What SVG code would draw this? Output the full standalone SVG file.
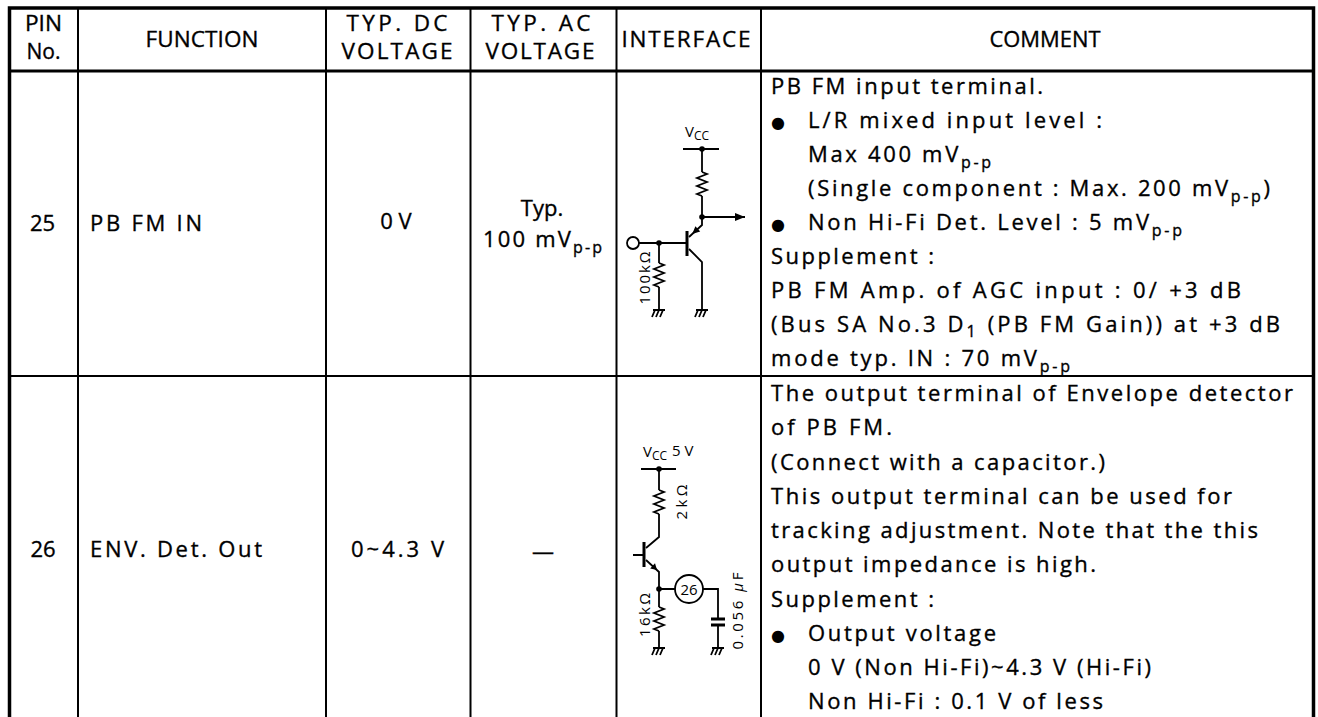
<svg xmlns="http://www.w3.org/2000/svg" width="1318" height="717" viewBox="0 0 1318 717">
<defs>
<style>
.t{font-family:"Open Sans","DejaVu Sans",sans-serif;font-size:22px;fill:#000;stroke:#000;stroke-width:0.35}
.h{font-family:"Open Sans","DejaVu Sans",sans-serif;font-size:22.5px;fill:#000;stroke:#000;stroke-width:0.35;text-anchor:middle}
.m{text-anchor:middle}
.s{font-size:16px}
.c{font-family:"Open Sans","DejaVu Sans",sans-serif;font-size:15px;fill:#000}
.b{font-family:"DejaVu Sans",sans-serif;font-size:16px;fill:#000}
.thin{stroke:#000;stroke-width:2;fill:none}
.thick{stroke:#000;stroke-width:3.5;fill:none}
.w{stroke:#000;stroke-width:1.8;fill:none}
.bar{stroke:#000;stroke-width:3;fill:none}
.dot{fill:#000}
</style>
<marker id="arr" markerWidth="10" markerHeight="8" refX="10" refY="4" orient="auto" markerUnits="userSpaceOnUse"><path d="M0,0 L10,4 L0,8 z" fill="#000"/></marker>
<path id="res" d="M0,0 l5,2 l-10,4 l10,4 l-10,4 l10,4 l-10,4 l5,2"/>
<path id="gnd" d="M-6,0 H6 M-4,0 l-3,7 M0,0 l-3,7 M4,0 l-3,7"/>
</defs>
<rect width="1318" height="717" fill="#fff"/>

<g id="table">
<path class="thick" d="M9.5,717 V8 H1313.5 V717"/>
<path class="thick" d="M9,71 H1313" style="stroke-width:3"/>
<path class="thin" d="M78,8 V717 M326,8 V717 M470.5,8 V717 M616.5,8 V717 M761,8 V717"/>
<path class="thin" d="M9,376 H1313"/>
</g>

<g id="header">
<text class="h" x="43.5" y="31" textLength="37" lengthAdjust="spacingAndGlyphs">PIN</text>
<text class="h" x="43.5" y="59" textLength="34" lengthAdjust="spacingAndGlyphs">No.</text>
<text class="h" x="202" y="47" textLength="113" lengthAdjust="spacing">FUNCTION</text>
<text class="h" x="397" y="31" textLength="101" lengthAdjust="spacing">TYP. DC</text>
<text class="h" x="397" y="59" textLength="111" lengthAdjust="spacing">VOLTAGE</text>
<text class="h" x="541" y="31" textLength="99" lengthAdjust="spacing">TYP. AC</text>
<text class="h" x="540" y="59" textLength="109" lengthAdjust="spacing">VOLTAGE</text>
<text class="h" x="686" y="47" textLength="129" lengthAdjust="spacing">INTERFACE</text>
<text class="h" x="1045" y="47" textLength="111" lengthAdjust="spacingAndGlyphs">COMMENT</text>
</g>

<g id="row25">
<text class="t m" x="42.5" y="231">25</text>
<text class="t" x="90" y="231" textLength="112" lengthAdjust="spacing">PB FM IN</text>
<text class="t m" x="396" y="229">0 V</text>
<text class="t m" x="542" y="216">Typ.</text>
<text class="t" x="483" y="247" textLength="119" lengthAdjust="spacing">100 mV<tspan class="s" dy="6">p-p</tspan></text>
</g>

<g id="interface25">
<text class="c" x="685" y="137">V<tspan font-size="12" dy="3">CC</tspan></text>
<path class="w" d="M683,149 H719 M702,149 V172 M702,196 V217 M702,217 V225 L689,237 M689,249 L702,262 V310 M639,243 H687 M659,243 V263 M659,287 V310"/>
<path class="w" d="M702,217 H745" marker-end="url(#arr)"/>
<use href="#res" x="702" y="172" class="w"/>
<use href="#res" x="659" y="263" class="w"/>
<path class="bar" d="M687,231 V256"/>
<polygon points="692.2,234.1 700.2,231.5 695.4,226.3" fill="#000"/>
<circle cx="633" cy="243" r="6" class="w" fill="#fff"/>
<circle cx="702" cy="149" r="2.8" class="dot"/>
<circle cx="702" cy="217" r="2.8" class="dot"/>
<circle cx="659" cy="243" r="2.8" class="dot"/>
<use href="#gnd" x="659" y="310" class="w"/>
<use href="#gnd" x="702" y="310" class="w"/>
<text class="c m" transform="translate(650,278) rotate(-90)" textLength="53" lengthAdjust="spacing">100kΩ</text>
</g>

<g id="comment25">
<text class="t" x="771" y="94" textLength="272" lengthAdjust="spacing">PB FM input terminal.</text>
<text class="b" x="771" y="128">●</text>
<text class="t" x="808" y="128" textLength="294" lengthAdjust="spacing">L/R mixed input level :</text>
<text class="t" x="808" y="162" textLength="183" lengthAdjust="spacing">Max 400 mV<tspan class="s" dy="6">p-p</tspan></text>
<text class="t" x="808" y="196" textLength="462" lengthAdjust="spacing">(Single component : Max. 200 mV<tspan class="s" dy="6">p-p</tspan><tspan dy="-6">)</tspan></text>
<text class="b" x="771" y="230">●</text>
<text class="t" x="808" y="230" textLength="374" lengthAdjust="spacing">Non Hi-Fi Det. Level : 5 mV<tspan class="s" dy="6">p-p</tspan></text>
<text class="t" x="771" y="264" textLength="163" lengthAdjust="spacing">Supplement :</text>
<text class="t" x="771" y="298" textLength="470" lengthAdjust="spacing">PB FM Amp. of AGC input : 0/ +3 dB</text>
<text class="t" x="771" y="332" textLength="509" lengthAdjust="spacing">(Bus SA No.3 D<tspan class="s" dy="5">1</tspan><tspan dy="-5"> (PB FM Gain)) at +3 dB</tspan></text>
<text class="t" x="771" y="366" textLength="299" lengthAdjust="spacing">mode typ. IN : 70 mV<tspan class="s" dy="6">p-p</tspan></text>
</g>

<g id="row26">
<text class="t m" x="43" y="557">26</text>
<text class="t" x="90" y="557" textLength="172" lengthAdjust="spacing">ENV. Det. Out</text>
<text class="t" x="351" y="557" textLength="93" lengthAdjust="spacing">0~4.3 V</text>
<text class="t m" x="543" y="559">—</text>
</g>

<g id="interface26">
<text class="c" x="643" y="457">V<tspan font-size="12" dy="3">CC</tspan><tspan dx="5" dy="-4">5 V</tspan></text>
<path class="w" d="M641,469 H676 M659,469 V490 M659,514 V537 L646,548 M633,555 H644 M646,560 L659,572 V607 M659,631 V648 M659,589 H675 M703,589 H718 V619 M718,625 V648"/>
<use href="#res" x="659" y="490" class="w"/>
<use href="#res" x="659" y="607" class="w"/>
<path class="bar" d="M644,542 V567 M711,619 H725 M711,625 H725"/>
<polygon points="657,570 650.2,568.5 655,563.3" fill="#000"/>
<circle cx="659" cy="469" r="2.8" class="dot"/>
<circle cx="659" cy="589" r="2.8" class="dot"/>
<circle cx="689" cy="589" r="14" class="w"/>
<text class="c m" x="689" y="595" font-size="16">26</text>
<use href="#gnd" x="659" y="648" class="w"/>
<use href="#gnd" x="718" y="648" class="w"/>
<text class="c m" transform="translate(687,502) rotate(-90)" textLength="35" lengthAdjust="spacing">2kΩ</text>
<text class="c m" transform="translate(650,615) rotate(-90)" textLength="44" lengthAdjust="spacing">16kΩ</text>
<text class="c m" transform="translate(743,611) rotate(-90)" textLength="77" lengthAdjust="spacing">0.056 <tspan font-style="italic">μ</tspan>F</text>
</g>

<g id="comment26">
<text class="t" x="771" y="401" textLength="522" lengthAdjust="spacing">The output terminal of Envelope detector</text>
<text class="t" x="771" y="435" textLength="121" lengthAdjust="spacing">of PB FM.</text>
<text class="t" x="771" y="470" textLength="334" lengthAdjust="spacing">(Connect with a capacitor.)</text>
<text class="t" x="771" y="504" textLength="461" lengthAdjust="spacing">This output terminal can be used for</text>
<text class="t" x="771" y="538" textLength="487" lengthAdjust="spacing">tracking adjustment. Note that the this</text>
<text class="t" x="771" y="572" textLength="325" lengthAdjust="spacing">output impedance is high.</text>
<text class="t" x="771" y="607" textLength="163" lengthAdjust="spacing">Supplement :</text>
<text class="b" x="771" y="641">●</text>
<text class="t" x="808" y="641" textLength="188" lengthAdjust="spacing">Output voltage</text>
<text class="t" x="808" y="675" textLength="343" lengthAdjust="spacing">0 V (Non Hi-Fi)~4.3 V (Hi-Fi)</text>
<text class="t" x="808" y="709" textLength="295" lengthAdjust="spacing">Non Hi-Fi : 0.1 V of less</text>
</g>
</svg>
